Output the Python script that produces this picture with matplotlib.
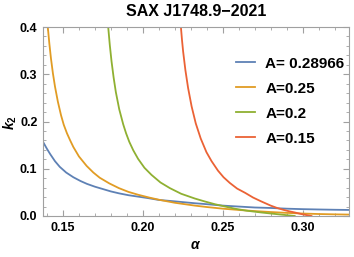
import matplotlib
matplotlib.use("Agg")
import matplotlib.pyplot as plt
from matplotlib.ticker import MultipleLocator

# values
alpha_a1 = [0.1375, 0.140, 0.142, 0.145, 0.148, 0.152, 0.1565, 0.161, 0.165, 0.170,
            0.175, 0.180, 0.185, 0.191, 0.197, 0.203, 0.21, 0.22, 0.2325, 0.24,
            0.25, 0.26, 0.27, 0.28, 0.29, 0.30, 0.31, 0.32, 0.329]
k2_a1 = [0.157, 0.142, 0.131, 0.116, 0.104, 0.092, 0.082, 0.074, 0.068, 0.062,
         0.057, 0.052, 0.048, 0.044, 0.041, 0.038, 0.034, 0.031, 0.027, 0.025,
         0.022, 0.020, 0.018, 0.017, 0.0155, 0.0145, 0.0138, 0.0132, 0.0128]

alpha_a2 = [0.1405, 0.1415, 0.1425, 0.1437, 0.145, 0.1468, 0.1488, 0.1505, 0.1525,
            0.1545, 0.1565, 0.160, 0.1648, 0.169, 0.173, 0.179, 0.185, 0.191, 0.197,
            0.204, 0.2106, 0.22, 0.2325, 0.24, 0.25, 0.26, 0.27, 0.28, 0.29, 0.30,
            0.31, 0.32, 0.329]
k2_a2 = [0.400, 0.364, 0.333, 0.302, 0.274, 0.242, 0.213, 0.193, 0.175,
         0.160, 0.146, 0.126, 0.106, 0.092, 0.081, 0.069, 0.059, 0.051, 0.045,
         0.039, 0.034, 0.028, 0.022, 0.019, 0.0155, 0.0128, 0.0104, 0.0084, 0.0066, 0.0052,
         0.0042, 0.0035, 0.003]

alpha_a3 = [0.1783, 0.1793, 0.1804, 0.1817, 0.1831, 0.1852, 0.1877, 0.1895, 0.1915,
            0.194, 0.197, 0.201, 0.2054, 0.211, 0.2169, 0.224, 0.2325, 0.2385, 0.245,
            0.2515, 0.2575, 0.265, 0.274, 0.28, 0.285, 0.29, 0.295]
k2_a3 = [0.400, 0.362, 0.327, 0.293, 0.262, 0.226, 0.194, 0.175, 0.157,
         0.139, 0.121, 0.102, 0.087, 0.071, 0.059, 0.047, 0.037, 0.031, 0.025,
         0.020, 0.0155, 0.0112, 0.0075, 0.0053, 0.0035, 0.0018, 0.0]

alpha_a4 = [0.2238, 0.2245, 0.2252, 0.2266, 0.2283, 0.2305, 0.2331, 0.2362, 0.2398,
            0.243, 0.247, 0.2505, 0.2544, 0.259, 0.264, 0.269, 0.274, 0.280, 0.284,
            0.288, 0.2915, 0.295, 0.300, 0.3055]
k2_a4 = [0.400, 0.372, 0.348, 0.309, 0.271, 0.232, 0.196, 0.164, 0.135,
         0.116, 0.096, 0.082, 0.070, 0.058, 0.049, 0.039, 0.031, 0.022, 0.017,
         0.013, 0.010, 0.0075, 0.0035, 0.0]

labels = ["A= 0.28966", "A=0.25", "A=0.2", "A=0.15"]
colors = ["#5E81B5", "#E19C24", "#8FB032", "#EB6235"]
xticks = [0.15, 0.20, 0.25, 0.30]
yticks = [0.0, 0.1, 0.2, 0.3, 0.4]

plt.rcParams["font.family"] = "Liberation Sans"
plt.rcParams["mathtext.fontset"] = "custom"
plt.rcParams["mathtext.rm"] = "Liberation Sans:bold"
plt.rcParams["mathtext.it"] = "Liberation Sans:italic:bold"

fig = plt.figure(figsize=(3.54, 2.57), dpi=100)
ax = fig.add_axes([43 / 354, 41 / 257, 306 / 354, 189 / 257])

series = [(alpha_a1, k2_a1), (alpha_a2, k2_a2), (alpha_a3, k2_a3), (alpha_a4, k2_a4)]
for (a, k), lab, c in zip(series, labels, colors):
    ax.plot(a, k, color=c, lw=1.3, label=lab)

ax.set_xlim(0.1375, 0.329)
ax.set_ylim(0, 0.4)
ax.set_xticks(xticks)
ax.set_xticklabels([f"{v:.2f}" for v in xticks])
ax.set_yticks(yticks)
ax.set_yticklabels([f"{v:.1f}" for v in yticks])
ax.xaxis.set_minor_locator(MultipleLocator(0.01))
ax.yaxis.set_minor_locator(MultipleLocator(0.02))

for s in ax.spines.values():
    s.set_color("#a0a0a0")
ax.tick_params(which="both", direction="in", top=True, right=True, color="#a0a0a0",
               labelsize=9)
ax.tick_params(which="major", length=4, width=0.8, pad=4)
ax.tick_params(which="minor", length=2, width=0.6)
for t in ax.get_xticklabels() + ax.get_yticklabels():
    t.set_fontweight("bold")

fig.text(196 / 354, 1 - 11 / 257, "SAX J1748.9\u22122021", ha="center", va="center",
         fontsize=11.5, fontweight="bold")
fig.text(10 / 354, 1 - 123 / 257, r"$k_2$", ha="center", va="center", fontsize=10,
         rotation=90)
fig.text(196 / 354, 1 - 245 / 257, r"$\alpha$", ha="center", va="center", fontsize=10)

ax.legend(loc="upper left", bbox_to_anchor=(228 / 354, 1 - 49 / 257),
          bbox_transform=fig.transFigure, frameon=False, borderpad=0,
          handlelength=1.25, handletextpad=0.7, labelspacing=0.72,
          prop={"weight": "bold", "size": 11})

fig.savefig("out.png", dpi=100)
